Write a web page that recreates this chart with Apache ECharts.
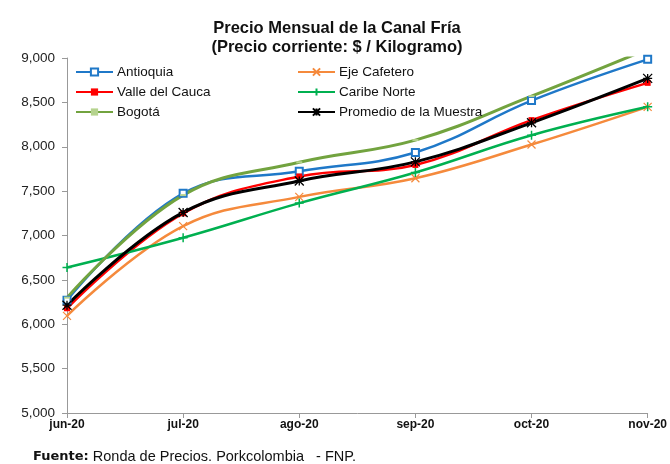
<!DOCTYPE html>
<html><head><meta charset="utf-8">
<script src="https://cdn.jsdelivr.net/npm/echarts@6/dist/echarts.min.js"></script>
<style>html,body{margin:0;padding:0;background:#fff}#c{width:670px;height:464px}</style>
</head><body><div id="c"></div>
<script>
const categories = ['jun-20','jul-20','ago-20','sep-20','oct-20','nov-20'];
const antioquia = [6270, 7475, 7725, 7935, 8520, 8985];
const ejeCafetero = [6095, 7105, 7435, 7645, 8025, 8450];
const valleCauca = [6180, 7250, 7665, 7795, 8300, 8720];
const caribeNorte = [6640, 6975, 7365, 7710, 8130, 8450];
const bogota = [6300, 7455, 7825, 8075, 8570, 9100];
const promedio = [6215, 7260, 7615, 7830, 8270, 8770];
const seriesNames = ['Antioquia','Eje Cafetero','Valle del Cauca','Caribe Norte','Bogotá','Promedio de la Muestra'];

const chart = echarts.init(document.getElementById('c'), null, {renderer:'canvas'});
const narrow = "'Liberation Sans Narrow','Arial Narrow',sans-serif";
const sans = "'Liberation Sans',Arial,sans-serif";
function mk(name, data, color, symbol, size, width, extra){
  return Object.assign({
    name, type:'line', data, smooth:0.4, symbol, symbolSize:size, showSymbol:true,
    lineStyle:{color, width}, itemStyle:{color},
    emphasis:{disabled:true}, animation:false, clip:true
  }, extra||{});
}
const option = {
  animation:false,
  title:{
    text:'Precio Mensual de la Canal Fría\n(Precio corriente: $ / Kilogramo)',
    left:332, top:14, textAlign:'center',
    textStyle:{fontFamily:sans, fontWeight:'bold', fontSize:16.5, color:'#111', lineHeight:19}
  },
  legend:{
    data:seriesNames, orient:'horizontal', left:75, top:62, width:450, padding:0,
    itemWidth:37, itemHeight:9, itemGap:0,
    textStyle:{fontFamily:sans, fontSize:13.5, color:'#111', width:180, lineHeight:20, padding:[0,0,0,-1]}
  },
  grid:{left:67, right:22, top:58, bottom:51},
  xAxis:{
    type:'category', data:categories, boundaryGap:false,
    axisLine:{lineStyle:{color:'#999'}},
    axisTick:{show:true, length:5, lineStyle:{color:'#999'}},
    axisLabel:{fontFamily:narrow, fontWeight:'bold', fontSize:12, color:'#111', margin:6}
  },
  yAxis:{
    type:'value', min:5000, max:9000, interval:500,
    splitLine:{show:false},
    axisLine:{show:true, lineStyle:{color:'#999'}},
    axisTick:{show:true, length:5, lineStyle:{color:'#999'}},
    axisLabel:{fontFamily:sans, fontSize:13.5, color:'#222', margin:12,
      formatter:v=>v.toLocaleString('en-US')}
  },
  series:[
    mk(seriesNames[0], antioquia, '#1f78c8', 'emptyRect', 7, 2.5, {itemStyle:{color:'#1f78c8', borderWidth:1.5}}),
    mk(seriesNames[1], ejeCafetero, '#f58a3c', 'path://M0,0L10,10M10,0L0,10', 8, 2.5, {itemStyle:{color:'#f58a3c', borderColor:'#f58a3c', borderWidth:1.2}}),
    mk(seriesNames[2], valleCauca, '#ff0000', 'rect', 6, 2.5),
    mk(seriesNames[3], caribeNorte, '#00b050', 'path://M5,0L5,10M0,5L10,5', 9, 2.5, {itemStyle:{color:'#00b050', borderColor:'#00b050', borderWidth:1.5}}),
    mk(seriesNames[4], bogota, '#72a33f', 'path://M0,0L10,0L10,4L0,4Z', [6,2], 3, {itemStyle:{color:'#b5d38e'}}),
    mk(seriesNames[5], promedio, '#000000', 'path://M0,0L10,10M10,0L0,10M5,0L5,10M0,5L10,5', 9, 3, {itemStyle:{color:'#000', borderColor:'#000', borderWidth:1.3}})
  ],
  graphic:[{
    type:'text', left:33, top:449,
    style:{text:'{b|Fuente:} Ronda de Precios. Porkcolombia   - FNP.',
      font:"14.5px 'Liberation Sans',Arial,sans-serif", fill:'#111',
      rich:{b:{fontFamily:"'DejaVu Sans',sans-serif", fontWeight:'bold', fontSize:13, fill:'#111'}}}
  }]
};
chart.setOption(option);
</script></body></html>
